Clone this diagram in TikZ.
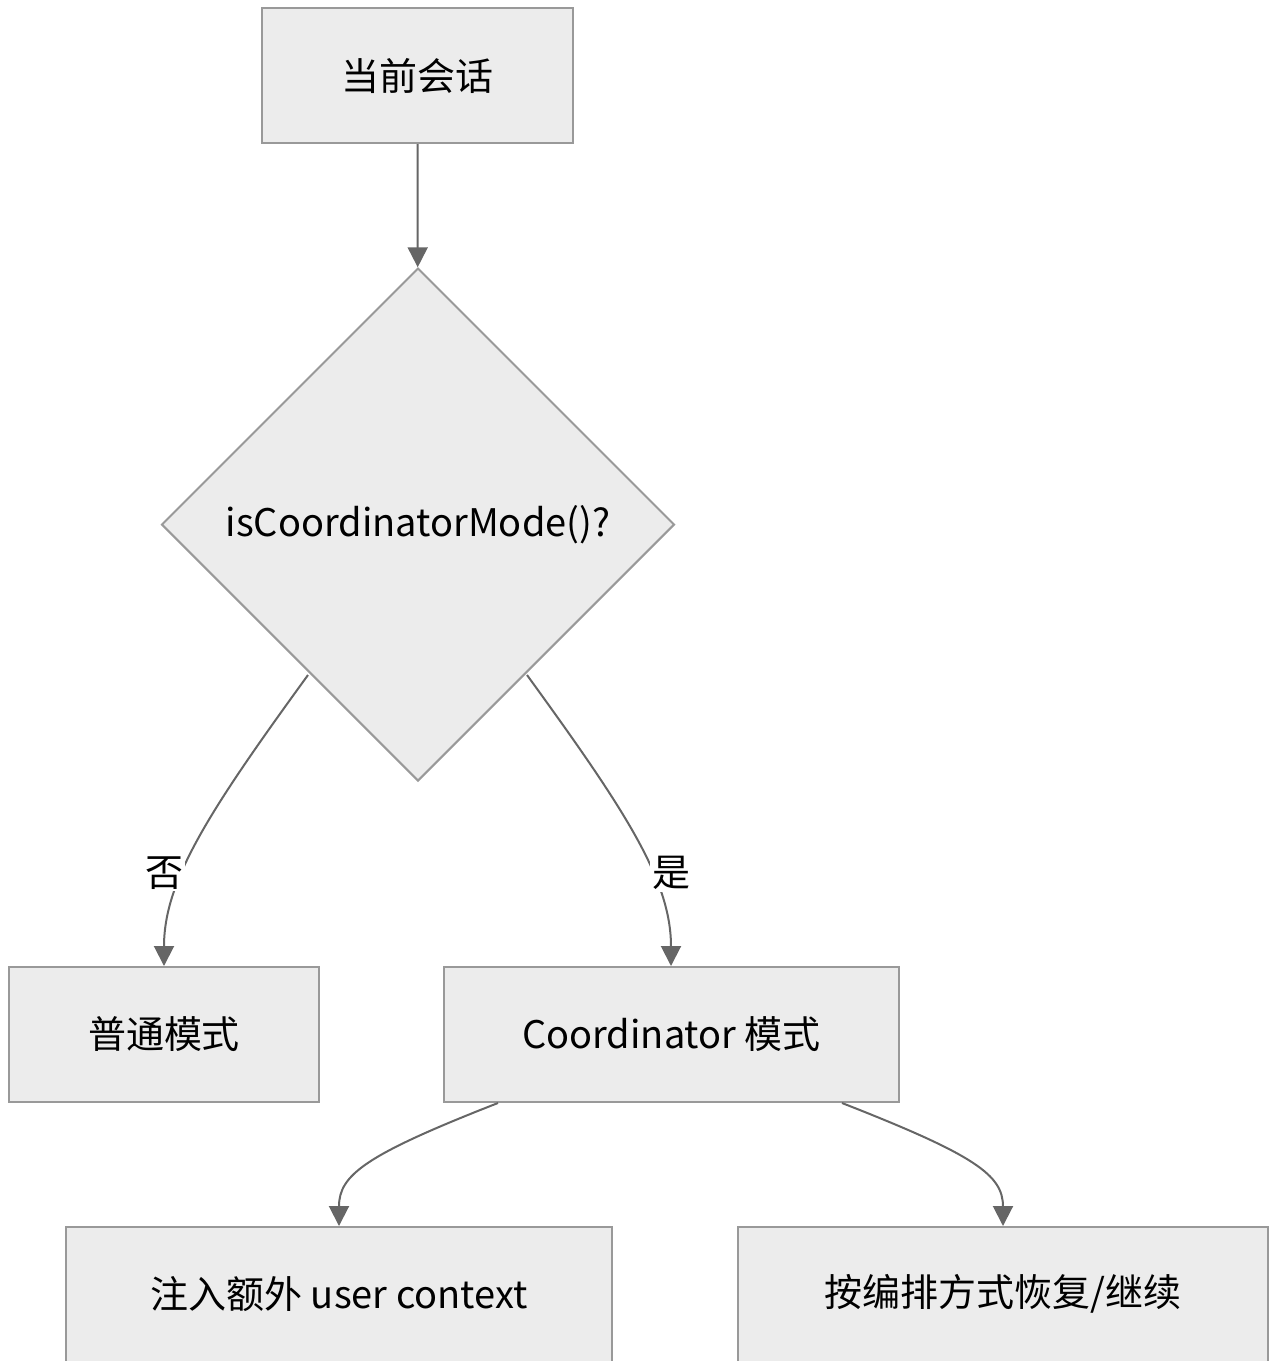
\documentclass[tikz,border=0pt]{standalone}
\usepackage{fontspec}
\setmainfont{Noto Sans CJK SC}
\usetikzlibrary{shapes.geometric,arrows.meta}
\definecolor{boxfill}{HTML}{ECECEC}
\definecolor{boxline}{HTML}{999999}
\definecolor{edgeline}{HTML}{666666}
\tikzset{
  stepbox/.style={draw=boxline, fill=boxfill, line width=2pt, rectangle,
    inner sep=0pt, font=\fontsize{38}{46}\selectfont},
  choice/.style={draw=boxline, fill=boxfill, line width=2pt, diamond,
    inner sep=0pt, minimum width=513pt, minimum height=513pt,
    font=\fontsize{38}{46}\selectfont},
  flow/.style={draw=edgeline, line width=2pt,
    -{Triangle[length=20pt,width=20pt]}},
  edgetag/.style={fill=white, inner sep=2pt, font=\fontsize{38}{46}\selectfont}
}
\begin{document}
\begin{tikzpicture}[x=1pt,y=-1pt]
  \path[use as bounding box] (0,0) rectangle (1273,1361);
  \clip (0,0) rectangle (1273,1361);

  % nodes
  \node[stepbox, minimum width=311pt, minimum height=135pt] (session) at (417.5,75.5) {当前会话};
  \node[choice] (mode) at (418,524.5) {isCoordinatorMode()?};
  \node[stepbox, minimum width=310pt, minimum height=135pt] (normal) at (164,1034.5) {普通模式};
  \node[stepbox, minimum width=455pt, minimum height=135pt] (coord) at (671.5,1034.5) {Coordinator 模式};
  \node[stepbox, minimum width=546pt, minimum height=140pt] (inject) at (339,1297) {};
  \node[font=\fontsize{38}{46}\selectfont] (injecttext) at (339,1294) {注入额外 user context};
  \node[stepbox, minimum width=530pt, minimum height=140pt] (resume) at (1003,1297) {};
  \node[font=\fontsize{38}{46}\selectfont] (resumetext) at (1003,1294) {按编排方式恢复/继续};

  % connector start points on the node borders
  \coordinate (nostart) at (308,675);
  \coordinate (yesstart) at (527,675);
  \coordinate (lstart) at (498,1103);
  \coordinate (rstart) at (842,1103);

  % connectors
  \draw[flow] (session) -- (mode);
  \draw[flow] (nostart) .. controls (210,810) and (164,880) .. (normal.north -| 164,0);
  \draw[flow] (yesstart) .. controls (625,810) and (671,880) .. (coord.north -| 671,0);
  \node[edgetag] (notag) at (164,873) {否};
  \node[edgetag] (yestag) at (671,873) {是};
  \draw[flow] (lstart) .. controls (365,1155) and (339,1175) .. (inject.north);
  \draw[flow] (rstart) .. controls (975,1155) and (1003,1175) .. (resume.north);
\end{tikzpicture}
\end{document}
